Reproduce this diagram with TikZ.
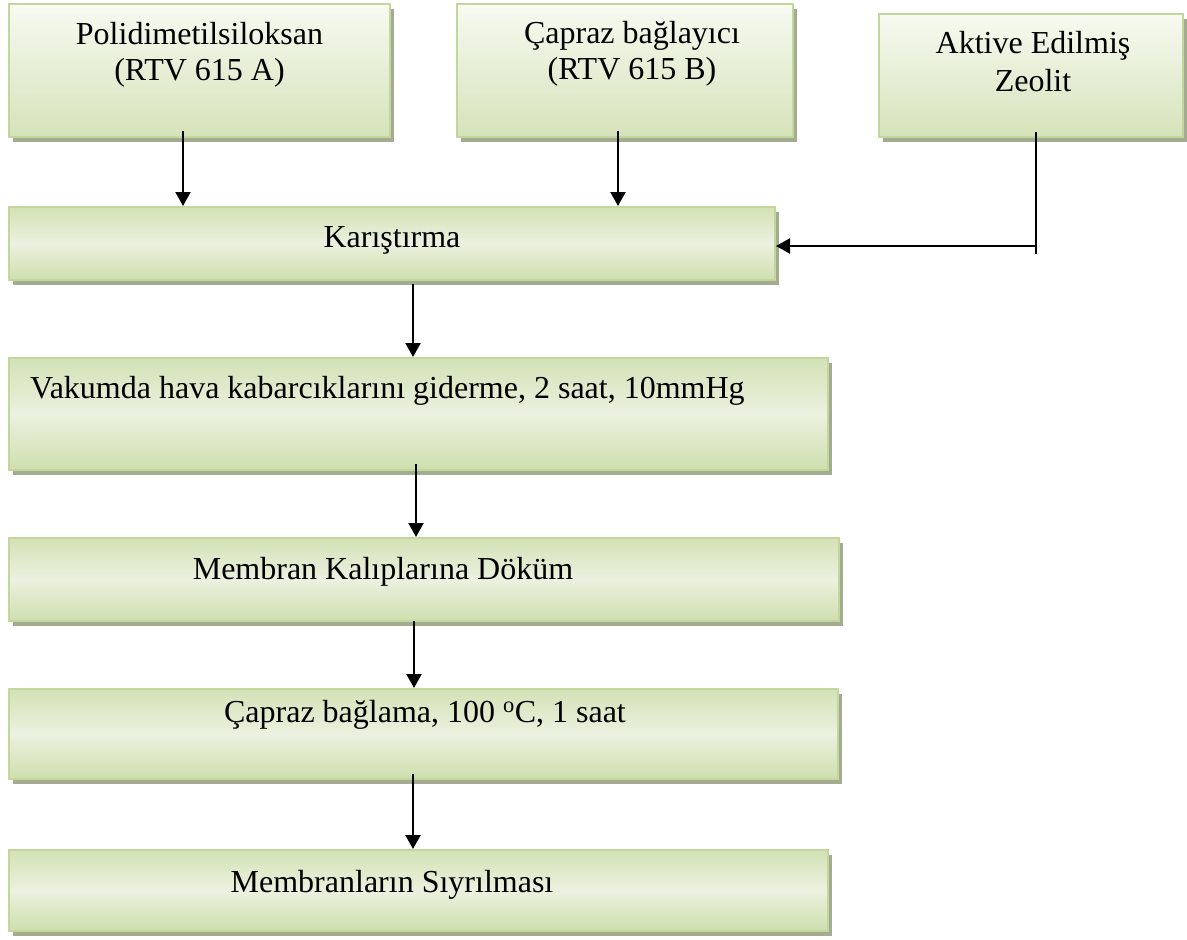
\documentclass[tikz,border=0pt]{standalone}
\usepackage{fontspec}
\setmainfont{Liberation Serif}
\usetikzlibrary{shadows,arrows.meta,calc}
\definecolor{boxborder}{HTML}{C3D69B}
\definecolor{shadowc}{HTML}{A3AB91}
\definecolor{toplight}{HTML}{F7FAF1}
\definecolor{topdark}{HTML}{D5E3BA}
\definecolor{lowA}{HTML}{D3E2B6}
\definecolor{lowB}{HTML}{EBF1DF}
\definecolor{lowC}{HTML}{CEDFAE}
\tikzset{
  basebox/.style={draw=boxborder, line width=2pt, inner sep=0pt,
    drop shadow={shadow xshift=4pt, shadow yshift=-5pt, fill=shadowc, opacity=1}},
  topbox/.style={basebox, top color=toplight, bottom color=topdark},
  lowbox/.style={basebox, top color=lowA, bottom color=lowC, middle color=lowB},
  txt/.style={font=\fontsize{32}{36}\selectfont, inner sep=0pt, anchor=base},
  arr/.style={line width=2.2pt, -{Triangle[length=14pt,width=15pt]}},
  ln/.style={line width=2.2pt}
}
\begin{document}
\begin{tikzpicture}[x=1pt,y=-1pt]
\useasboundingbox (0,0) rectangle (1187,940);
% boxes
\node[topbox, minimum width=381pt, minimum height=133pt] (a) at (199.5,70.5) {};
\node[topbox, minimum width=336pt, minimum height=133pt] (b) at (625,70.5) {};
\node[topbox, minimum width=304pt, minimum height=123pt] (c) at (1031,75.5) {};
\node[lowbox, minimum width=766pt, minimum height=73pt] (k) at (392,243.5) {};
\node[lowbox, minimum width=819pt, minimum height=112pt] (v) at (418.5,414) {};
\node[lowbox, minimum width=830pt, minimum height=83pt] (m) at (424,579.5) {};
\node[lowbox, minimum width=829pt, minimum height=90pt] (cb) at (423.5,734) {};
\node[lowbox, minimum width=819pt, minimum height=81pt] (s) at (418.5,890.5) {};
% texts
\node[txt] (a1) at (199.5,44) {Polidimetilsiloksan};
\node[txt] (a2) at (199.5,80) {(RTV 615 A)};
\node[txt] (b1) at (632,43) {Çapraz bağlayıcı};
\node[txt] (b2) at (632,79) {(RTV 615 B)};
\node[txt] (c1) at (1033,53) {Aktive Edilmiş};
\node[txt] (c2) at (1033,91) {Zeolit};
\node[txt] (k1) at (392,247) {Karıştırma};
\node[txt, anchor=base west] (v1) at (30,398) {Vakumda hava kabarcıklarını giderme, 2 saat, 10mmHg};
\node[txt] (m1) at (383,579) {Membran Kalıplarına Döküm};
\node[txt] (cb1) at (425,722) {Çapraz bağlama, 100 \textsuperscript{o}C, 1 saat};
\node[txt] (s1) at (392,892) {Membranların Sıyrılması};
% connectors
\draw[arr] ([xshift=-16.5pt,yshift=7pt]a.south) -- ([xshift=-16.5pt]a.south |- k.north);
\draw[arr] ([xshift=-7pt,yshift=7pt]b.south) -- ([xshift=-7pt]b.south |- k.north);
\draw[arr] ([xshift=21pt,yshift=-3pt]k.south) -- ([xshift=21pt]k.south |- v.north);
\draw[arr] ([xshift=-2.5pt,yshift=7pt]v.south) -- ([xshift=-2.5pt]v.south |- m.north);
\draw[arr] ([xshift=-10pt,yshift=1pt]m.south) -- ([xshift=-10pt]m.south |- cb.north);
\draw[arr] ([xshift=-10.5pt,yshift=6pt]cb.south) -- ([xshift=-10.5pt]cb.south |- s.north);
\coordinate (zend) at (1036,254);
\coordinate (zj) at (1036,246);
\draw[ln] ([xshift=5pt,yshift=6pt]c.south) -- (zend);
\draw[arr] (zj) -- (k.east |- zj);
\end{tikzpicture}
\end{document}
